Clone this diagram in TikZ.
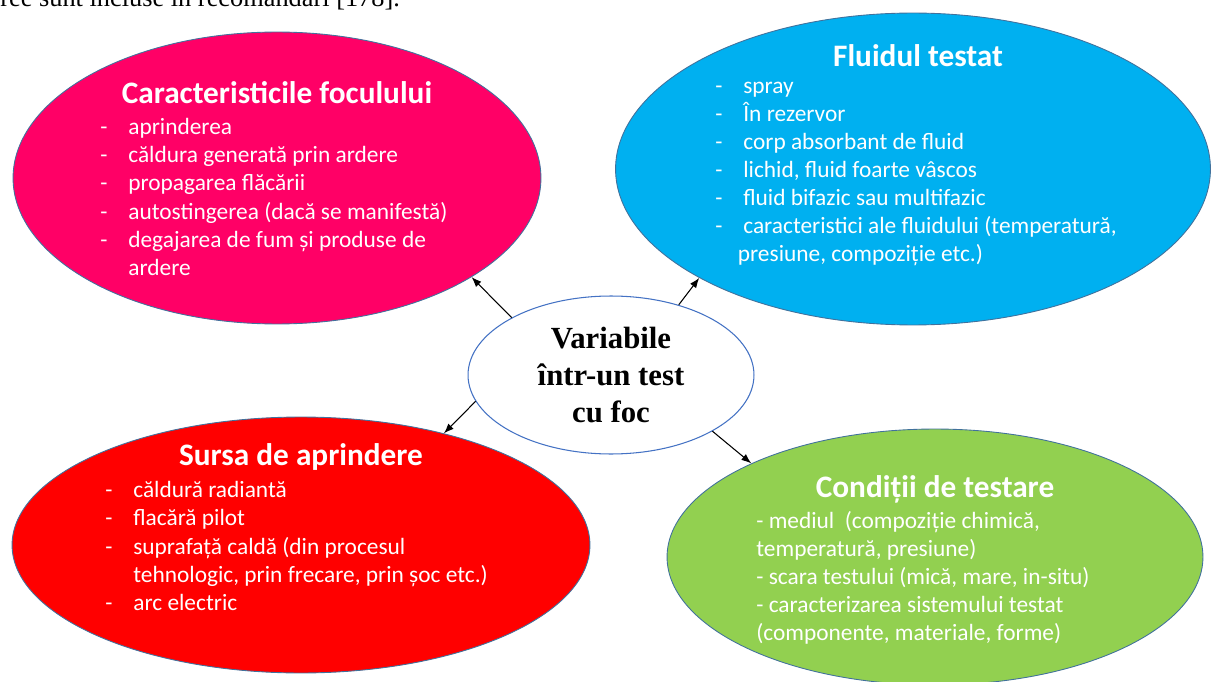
\documentclass[tikz,border=0pt]{standalone}
\usepackage{fontspec}
\setmainfont{Carlito}
\newfontfamily\serifro{Liberation Serif}
\usetikzlibrary{shapes.geometric, arrows.meta}

\definecolor{roz}{HTML}{FF0066}
\definecolor{albastru}{HTML}{00B0F0}
\definecolor{rosu}{HTML}{FF0000}
\definecolor{verde}{HTML}{92D050}
\definecolor{contur}{HTML}{41719C}
\definecolor{conturvar}{HTML}{4472C4}

\newcommand{\itm}[1]{\makebox[0.56cm][l]{-}#1}
\newcommand{\cont}[1]{\makebox[0.56cm]{}#1}

\begin{document}
\begin{tikzpicture}[
  x=0.02cm, y=-0.02cm,
  bula/.style={
    ellipse,
    draw=contur,
    line width=0.5pt,
    inner sep=0pt
  },
  titlu/.style={
    font=\fontsize{17.8pt}{21pt}\selectfont\bfseries,
    text=white,
    inner sep=0pt
  },
  lista/.style={
    font=\fontsize{13.3pt}{16pt}\selectfont,
    text=white,
    align=left,
    anchor=west,
    inner sep=0pt
  },
  sageata/.style={
    -{Latex[length=2mm, width=1.5mm]},
    line width=0.6pt
  }
]

\useasboundingbox (0,0) rectangle (1213,682);

\node[anchor=base west, inner sep=0pt, font=\serifro\fontsize{15pt}{17pt}\selectfont] (recom) at (0,7) {ree sunt incluse în recomandări [178].};

% cele patru grupe de variabile
\node[bula, fill=roz, minimum width=10.56cm, minimum height=5.84cm]      (foc)   at (277,178) {};
\node[bula, fill=albastru, minimum width=11.9cm, minimum height=6.24cm]  (fluid) at (913,169) {};
\node[bula, fill=rosu, minimum width=11.56cm, minimum height=5.12cm]     (sursa) at (301,545) {};
\node[bula, fill=verde, minimum width=10.72cm, minimum height=5.12cm]    (cond)  at (935,557) {};

\node[titlu] (focT)   at (277,93)  {Caracteristicile foculului};
\node[titlu] (fluidT) at (918,56)  {Fluidul testat};
\node[titlu] (sursaT) at (301,457) {Sursa de aprindere};
\node[titlu] (condT)  at (935,489) {Condiții de testare};

\node[lista] (focL) at (100,197) {\itm{aprinderea}\\
  \itm{căldura generată prin ardere}\\
  \itm{propagarea flăcării}\\
  \itm{autostingerea (dacă se manifestă)}\\
  \itm{degajarea de fum și produse de}\\
  \cont{ardere}};
\node[lista] (fluidL) at (715,174) {\itm{spray}\\
  \itm{În rezervor}\\
  \itm{corp absorbant de fluid}\\
  \itm{lichid, fluid foarte vâscos}\\
  \itm{fluid bifazic sau multifazic}\\
  \itm{caracteristici ale fluidului (temperatură,}\\
  \makebox[0.45cm]{}presiune, compoziție etc.)};
\node[lista] (sursaL) at (105,546) {\itm{căldură radiantă}\\
  \itm{flacără pilot}\\
  \itm{suprafață caldă (din procesul}\\
  \cont{tehnologic, prin frecare, prin șoc etc.)}\\
  \itm{arc electric}};
\node[lista] (condL) at (756,578) {- mediul\ \ (compoziție chimică,\\
  temperatură, presiune)\\
  - scara testului (mică, mare, in-situ)\\
  - caracterizarea sistemului testat\\
  (componente, materiale, forme)};

% centrul
\node[bula, draw=conturvar, line width=0.6pt, fill=white, minimum width=5.72cm, minimum height=3.16cm,
      align=center, font=\serifro\bfseries\fontsize{17.5pt}{21pt}\selectfont] (var) at (611,375)
      {Variabile\\într-un test\\cu foc};

\draw[sageata] (var.150.6) -- (foc.-27.5);
\draw[sageata] (var.46.3)  -- (fluid.207.3);
\draw[sageata] (var.191.9) -- (sursa.38.8);
\draw[sageata] (var.-29.2) -- (cond.153.7);

\end{tikzpicture}
\end{document}
